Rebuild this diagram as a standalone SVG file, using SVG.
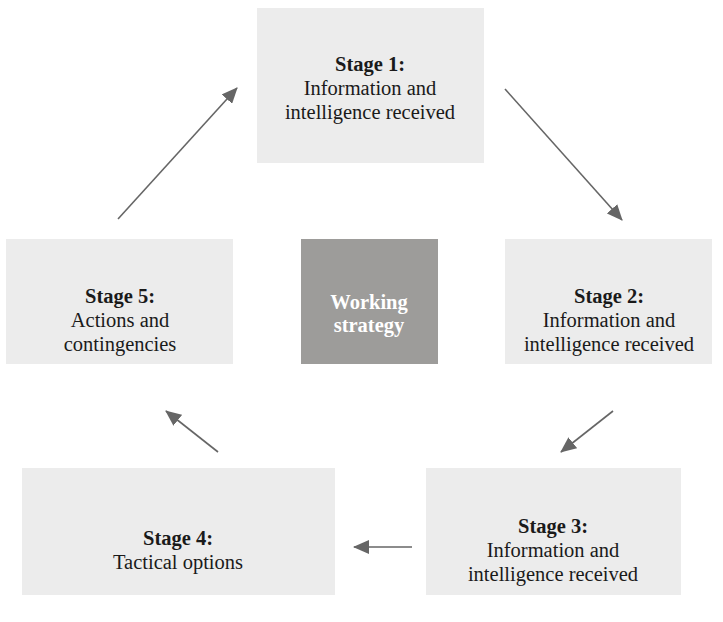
<svg xmlns="http://www.w3.org/2000/svg" width="723" height="622" viewBox="0 0 723 622">
  <style>
    .box { fill: #ececec; }
    .core { fill: #9d9c9a; }
    text { font-family: "Liberation Serif", "Times New Roman", serif; font-size: 20.5px; fill: #1a1a1a; text-anchor: middle; }
    .b { font-weight: bold; }
    .w { fill: #ffffff; font-weight: bold; }
    .arrow { stroke: #666666; stroke-width: 1.6; fill: none; marker-end: url(#head); }
  </style>
  <defs>
    <marker id="head" viewBox="0 0 16 14" refX="15" refY="7" markerWidth="16" markerHeight="14" orient="auto" markerUnits="userSpaceOnUse">
      <path d="M0,0 L16,7 L0,14 Z" fill="#666666"/>
    </marker>
  </defs>

  <rect width="723" height="622" fill="#ffffff"/>

  <g id="connectors">
    <line class="arrow" x1="505" y1="89" x2="622" y2="220"/>
    <line class="arrow" x1="613" y1="411" x2="561" y2="452"/>
    <line class="arrow" x1="412" y1="547" x2="354" y2="547"/>
    <line class="arrow" x1="218" y1="452" x2="166" y2="411"/>
    <line class="arrow" x1="118" y1="219" x2="237" y2="88"/>
  </g>

  <g id="stage1">
    <rect class="box" x="257" y="8" width="227" height="155"/>
    <text x="370" y="71" class="b">Stage 1:</text>
    <text x="370" y="95">Information and</text>
    <text x="370" y="119">intelligence received</text>
  </g>

  <g id="stage2">
    <rect class="box" x="505" y="239" width="207" height="125"/>
    <text x="609" y="303" class="b">Stage 2:</text>
    <text x="609" y="327">Information and</text>
    <text x="609" y="351">intelligence received</text>
  </g>

  <g id="stage3">
    <rect class="box" x="426" y="468" width="255" height="127"/>
    <text x="553" y="533" class="b">Stage 3:</text>
    <text x="553" y="557">Information and</text>
    <text x="553" y="581">intelligence received</text>
  </g>

  <g id="stage4">
    <rect class="box" x="22" y="468" width="313" height="127"/>
    <text x="178" y="545" class="b">Stage 4:</text>
    <text x="178" y="569">Tactical options</text>
  </g>

  <g id="stage5">
    <rect class="box" x="6" y="239" width="227" height="125"/>
    <text x="120" y="303" class="b">Stage 5:</text>
    <text x="120" y="327">Actions and</text>
    <text x="120" y="351">contingencies</text>
  </g>

  <g id="working-strategy">
    <rect class="core" x="301" y="239" width="137" height="125"/>
    <text x="369" y="309" class="w">Working</text>
    <text x="369" y="332" class="w">strategy</text>
  </g>
</svg>
